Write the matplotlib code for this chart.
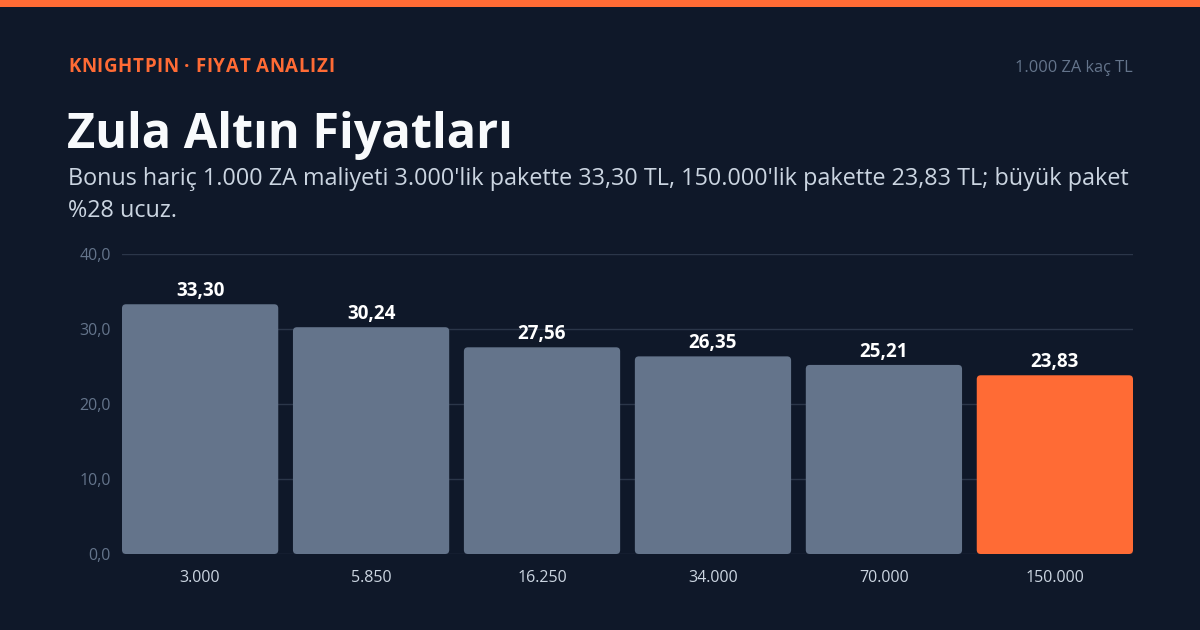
import matplotlib
matplotlib.use('Agg')
import matplotlib.pyplot as plt
from matplotlib.patches import FancyBboxPatch, Rectangle

plt.rcParams['font.family'] = ['Open Sans', 'DejaVu Sans']

# data
packages = ['3.000', '5.850', '16.250', '34.000', '70.000', '150.000']
cost_per_1000 = [33.30, 30.24, 27.56, 26.35, 25.21, 23.83]
y_ticks = [0, 10, 20, 30, 40]

bg = '#0f1829'
orange = '#ff6b35'
slate = '#64748b'
grid_c = '#2b3649'

W, H = 1200, 630
fig = plt.figure(figsize=(12, 6.3), dpi=100, facecolor=bg)

def fy(px):
    return 1 - px / H

# top strip
fig.patches.append(Rectangle((0, fy(7)), 1, 7 / H, transform=fig.transFigure,
                             facecolor=orange, edgecolor='none'))

# header with a little letter spacing, like the original
header = 'KNIGHTPIN · FIYAT ANALIZI'
t = fig.text(68 / W, fy(72), header, color=orange,
             fontsize=13.5, fontweight='bold', va='baseline', ha='left')
fig.canvas.draw()
nat_w = t.get_window_extent().width
extra = (333 - 68 - nat_w) / (len(header) - 1)
t.remove()
xpos = 68.0
r_ = fig.canvas.get_renderer()
for ch in header:
    c = fig.text(xpos / W, fy(72), ch, color=orange, fontsize=13.5,
                 fontweight='bold', va='baseline', ha='left')
    w = c.get_window_extent(renderer=r_).width if ch != ' ' else 4.5
    xpos += w + extra

fig.text(1133 / W, fy(72), '1.000 ZA kaç TL', color=slate,
         fontsize=11.8, va='baseline', ha='right')
fig.text(67 / W, fy(148), 'Zula Altın Fiyatları', color='#f8fafc',
         fontsize=35, fontweight='bold', va='baseline', ha='left')
fig.text(68 / W, fy(185),
         "Bonus hariç 1.000 ZA maliyeti 3.000'lik pakette 33,30 TL, 150.000'lik pakette 23,83 TL; büyük paket",
         color='#cbd5e1', fontsize=16.8, va='baseline', ha='left')
fig.text(68 / W, fy(217), '%28 ucuz.', color='#cbd5e1', fontsize=16.8,
         va='baseline', ha='left')

ax = fig.add_axes([122 / W, 1 - 554 / H, (1133 - 122) / W, (554 - 254) / H])
ax.set_facecolor(bg)

n = len(packages)
width = 0.914
x = list(range(n))
ax.set_xlim(-width / 2, n - 1 + width / 2)
ax.set_ylim(0, 40)

# pixel scale for rounded corners
px_x = (n - 1 + width) / (1133 - 122)
px_y = 40 / (554 - 254)
r = 4
for i, v in enumerate(cost_per_1000):
    color = orange if i == n - 1 else slate
    p = FancyBboxPatch((i - width / 2, 0), width, v,
                       boxstyle='round,pad=0,rounding_size=%f' % (r * px_x),
                       mutation_aspect=px_y / px_x,
                       facecolor=color, edgecolor='none', zorder=3)
    ax.add_patch(p)
    ax.annotate(('%.2f' % v).replace('.', ','), (i, v), xytext=(0, 2.2),
                textcoords='offset points', ha='center', va='bottom',
                color='white', fontsize=13.5, fontweight='bold', zorder=4)

ax.set_yticks(y_ticks)
ax.set_yticklabels([('%.1f' % t).replace('.', ',') for t in y_ticks])
ax.set_xticks(x)
ax.set_xticklabels(packages)
ax.tick_params(axis='y', length=0, pad=8, labelsize=11.5, labelcolor=slate)
ax.tick_params(axis='x', length=0, pad=11.5, labelsize=11.5, labelcolor='#cbd5e1')
ax.grid(axis='y', color=grid_c, linewidth=1)
ax.set_axisbelow(True)
for s in ax.spines.values():
    s.set_visible(False)

fig.savefig('out.png', dpi=100, facecolor=bg)
